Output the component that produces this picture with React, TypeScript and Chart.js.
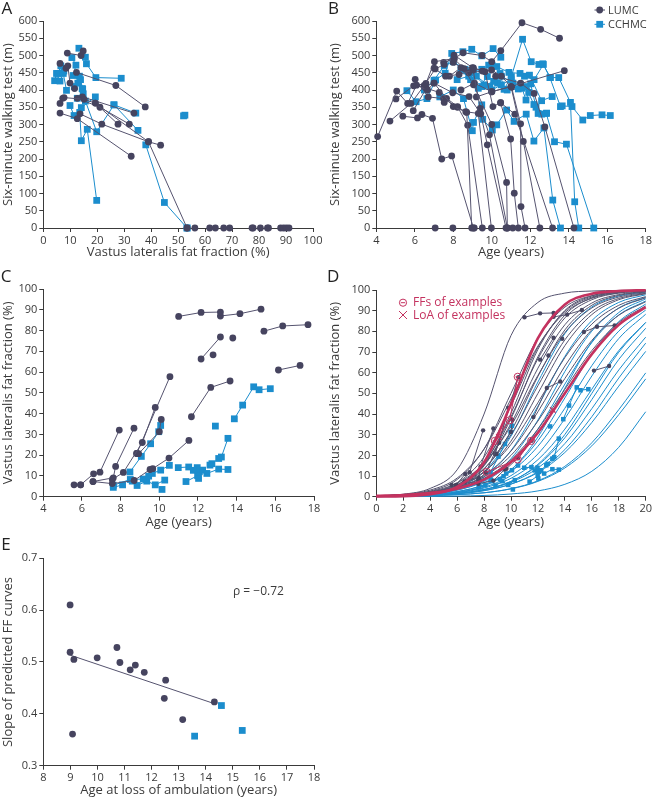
import React, { useEffect, useRef } from "react";
import { Chart, registerables } from "chart.js";
Chart.register(...registerables);

const FONT = "'Open Sans', 'Noto Sans', sans-serif";
const DARK = "#46445f";
const DARK_LINE = "#55536f";
const BLUE = "#1b8dcd";
const RED = "#c4325f";
const INK = "#3a3a3a";

// ---------- Panel A: 6MWT vs fat fraction ----------
const A_LUMC: number[][][] = [
  [[8.9, 507], [14.0, 500], [14.8, 513]],
  [[6.2, 477], [8.4, 463], [9.1, 470], [9.9, 420], [11.6, 404]],
  [[12.3, 451], [26.9, 413], [37.8, 351]],
  [[6.2, 361], [7.2, 376], [7.7, 378], [15.1, 373], [19.3, 362], [27.7, 301]],
  [[12.6, 376], [21.0, 350], [31.9, 301]],
  [[14.5, 380], [33.6, 333]],
  [[6.2, 333], [12.6, 317], [32.6, 208]],
  [[13.6, 331], [21.7, 301], [39.0, 250], [43.5, 240]],
  [[19.3, 362], [39.0, 250], [53.3, 0]],
];
const A_LUMC_ZERO: number[] = [53.3, 56.2, 61.7, 63.8, 66.9, 69.1, 77.4, 77.8, 80.5, 83.1, 83.5, 88.0, 89.1, 90.1, 91.1];
const A_CCHMC: number[][][] = [
  [[13.2, 521], [15.6, 495], [16.0, 476], [19.5, 436], [28.9, 434]],
  [[10.6, 494], [12.1, 472], [11.1, 442], [13.8, 430], [14.6, 403], [14.8, 389]],
  [[4.2, 427], [4.9, 448], [6.2, 426], [7.4, 448], [8.6, 399]],
  [[9.9, 355], [11.4, 326], [14.1, 349], [19.3, 380]],
  [[12.6, 376], [15.6, 368], [19.8, 279], [26.2, 357], [35.1, 283]],
  [[26.2, 357], [34.3, 333]],
  [[13.5, 335], [14.1, 253], [16.3, 286], [19.8, 80]],
  [[38.0, 241], [44.9, 74], [53.3, 0]],
  [[52.0, 325], [52.5, 327]],
  [[5.5, 448], [6.5, 470], [7.6, 455]],
  [[11.5, 410], [12.8, 420], [13.4, 440], [14.4, 404]],
];
const A_CCHMC_ZERO: number[] = [53.3];

// ---------- Panel B: 6MWT vs age ----------
const B_LUMC: number[][][] = [
  [[4.07, 265], [5.06, 397], [5.63, 361], [6.09, 414], [6.66, 400], [7.0, 420], [8.0, 352], [8.7, 335], [8.96, 0]],
  [[4.71, 310], [5.8, 361], [6.49, 413], [7.06, 461], [7.53, 474], [8.04, 501], [9.0, 465], [9.51, 455]],
  [[5.38, 324], [6.14, 319], [6.37, 329], [6.92, 318], [7.4, 200], [7.92, 209], [9.05, 0]],
  [[5.02, 374], [5.94, 412], [6.58, 419], [7.02, 482], [8.04, 491], [8.51, 508], [9.5, 500], [10.0, 482], [10.47, 514], [11.57, 595], [12.54, 576], [13.52, 550]],
  [[5.92, 340], [6.6, 405], [7.27, 393], [7.53, 364], [7.65, 376], [8.22, 352], [8.75, 298], [9.51, 0]],
  [[6.02, 431], [6.7, 380], [7.5, 375], [8.22, 350], [8.65, 337], [9.3, 332], [9.98, 0]],
  [[6.5, 410], [7.0, 420], [7.97, 392], [8.82, 381], [9.43, 331], [9.77, 241], [10.74, 0]],
  [[7.0, 463], [7.6, 440], [8.3, 445], [9.03, 458], [9.4, 347], [9.88, 270], [10.81, 0]],
  [[7.5, 480], [8.05, 490], [8.56, 462], [9.05, 415], [10.0, 300], [10.77, 132], [10.81, 0]],
  [[7.8, 440], [8.4, 465], [9.05, 464], [9.65, 453], [10.06, 352], [10.46, 363], [10.98, 258], [11.17, 101], [11.38, 0]],
  [[8.0, 480], [8.8, 450], [9.99, 458], [10.5, 440], [11.03, 408], [11.5, 302], [11.52, 62], [11.73, 0]],
  [[8.4, 400], [9.1, 420], [10.0, 395], [11.0, 410], [11.64, 251], [12.5, 0]],
  [[9.2, 380], [10.0, 395], [11.0, 410], [13.77, 456]],
  [[10.2, 440], [11.5, 420], [12.2, 390], [12.76, 293], [14.27, 0]],
  [[10.46, 363], [11.2, 330], [13.16, 0]],
  [[7.06, 0]],
  [[7.98, 0]],
  [[9.09, 0]],
  [[11.09, 0]],
];
const B_CCHMC: number[][][] = [
  [[5.59, 398], [6.07, 366], [6.63, 375], [7.08, 429], [7.58, 449], [7.92, 506], [8.5, 511], [8.96, 518], [9.48, 499], [10.07, 520], [10.47, 495]],
  [[6.5, 400], [7.0, 428], [7.53, 471], [8.0, 482], [8.61, 460], [9.05, 455], [9.48, 460], [9.84, 472], [10.02, 471], [10.26, 468], [10.89, 451], [11.47, 448], [11.96, 443], [12.59, 369], [13.14, 381]],
  [[7.3, 380], [8.0, 400], [8.53, 375], [8.99, 282], [9.05, 306], [9.48, 357], [9.53, 315], [10.03, 284], [10.26, 299], [10.77, 342], [11.16, 309], [11.79, 330], [12.19, 252], [12.71, 290], [13.17, 81], [13.57, 0]],
  [[8.2, 430], [8.8, 440], [9.5, 410], [10.1, 425], [10.43, 448], [10.64, 402], [11.02, 439], [11.6, 547], [12.05, 482], [12.45, 474], [12.65, 476], [13.05, 436], [13.48, 436], [14.09, 364], [14.31, 76], [14.52, 0]],
  [[8.4, 460], [8.9, 430], [9.3, 405], [9.77, 439], [10.3, 420], [10.8, 400], [11.38, 403], [11.76, 410], [12.19, 358], [12.41, 332], [12.83, 332], [13.26, 250], [13.88, 243], [15.3, 0]],
  [[9.0, 450], [9.6, 415], [10.0, 400], [10.5, 415], [11.0, 430], [11.57, 405], [11.78, 371], [11.92, 393], [12.02, 418], [12.3, 350], [12.6, 330], [12.85, 333]],
  [[11.7, 440], [12.2, 430], [12.68, 474], [13.02, 436], [13.57, 352], [13.66, 354], [14.17, 352], [14.73, 313], [15.12, 326], [15.73, 328], [16.16, 326]],
  [[8.7, 455], [9.2, 440], [9.9, 410], [10.5, 440], [11.1, 420], [11.5, 415]],
];

// ---------- Panel C: fat fraction vs age ----------
const C_LUMC: number[][][] = [
  [[5.59, 5.7], [5.93, 5.7]],
  [[5.93, 5.7], [6.6, 11.0], [6.93, 11.8], [7.93, 32.1]],
  [[6.57, 7.3], [7.62, 9.1], [7.74, 14.6], [8.69, 33.0]],
  [[7.57, 8.3], [8.14, 11.7], [9.12, 26.1], [9.79, 43.0]],
  [[8.83, 20.8], [8.93, 20.7], [10.0, 31.3], [10.1, 37.2]],
  [[8.83, 20.8], [10.55, 57.8]],
  [[6.57, 7.3], [7.57, 6.3], [8.7, 7.8], [9.52, 13.1], [9.66, 13.5], [10.5, 18.6], [11.53, 27.1]],
  [[11.66, 38.5], [12.66, 52.6], [13.66, 55.7]],
  [[11.0, 86.8], [12.16, 88.7], [13.16, 88.9]],
  [[13.16, 87.0], [14.17, 88.1], [15.26, 90.3]],
  [[12.16, 66.3], [13.16, 76.9]],
  [[12.78, 68.3]],
  [[13.8, 76.4]],
  [[15.41, 79.7], [16.38, 82.2], [17.69, 82.8]],
  [[16.16, 61.0], [17.28, 63.2]],
];
const C_CCHMC: number[][][] = [
  [[8.48, 11.9], [9.07, 19.4], [9.55, 25.5], [9.97, 31.3], [10.07, 34.3]],
  [[7.62, 4.5], [8.1, 5.7]],
  [[7.62, 5.5], [8.5, 8.3], [9.17, 8.5], [9.45, 9.9], [9.64, 11.2], [10.07, 12.8], [10.52, 15.1]],
  [[8.6, 7.5], [8.85, 5.4], [9.35, 7.5], [9.79, 5.7], [10.28, 8.0]],
  [[10.14, 3.5]],
  [[10.98, 14.0], [11.52, 14.3], [11.76, 12.7], [12.03, 8.8]],
  [[11.38, 7.3], [11.98, 10.1], [12.24, 12.8]],
  [[11.96, 14.0], [12.07, 12.0], [12.46, 11.2], [13.07, 13.3], [13.55, 13.1]],
  [[12.62, 15.2], [12.72, 15.9], [13.07, 18.4], [13.21, 19.1], [13.55, 28.1]],
  [[12.9, 34.0]],
  [[13.88, 37.5], [14.31, 44.1], [14.88, 52.9], [15.16, 51.5], [15.74, 52.0]],
];

// ---------- Panel D: predicted FF curves (values read at each age) ----------
const D_AGES: number[] = [0, 2, 4, 6, 8, 10, 12, 14, 16, 18, 20];
const D_LUMC_CURVES: number[][] = [
  [0.3, 1.2, 4, 13, 40, 78, 94, 98.5, 99.5, 99.8, 100],
  [0.25, 0.8, 2.7, 8.3, 23.1, 50, 76.9, 91.7, 97.3, 99.2, 99.7],
  [0.2, 0.6, 2.1, 6.7, 19.2, 44, 72.3, 89.7, 96.6, 99, 99.7],
  [0.2, 0.6, 1.9, 5.8, 16.5, 38.7, 66.8, 86.5, 95.3, 98.5, 99.5],
  [0.2, 0.7, 2.0, 5.7, 15.4, 35.4, 62.2, 83.2, 93.7, 97.8, 99.3],
  [0.2, 0.6, 1.7, 4.9, 13.4, 31.7, 58.2, 80.7, 92.6, 97.4, 99.1],
  [0.3, 0.8, 2.1, 5.5, 13.6, 30.0, 53.7, 75.9, 89.6, 95.9, 98.4],
  [0.25, 0.7, 1.8, 4.7, 11.9, 26.9, 50, 73.1, 88.1, 95.3, 98.2],
  [0.4, 0.9, 2.2, 5.3, 12.1, 25.3, 45.5, 67.3, 83.5, 92.6, 96.8],
  [0.3, 0.8, 1.9, 4.5, 10.3, 22.1, 41.1, 63.2, 80.8, 91.2, 96.2],
  [0.4, 0.9, 2.0, 4.4, 9.7, 20, 36.6, 57.2, 75.6, 87.8, 94.3],
  [0.4, 0.9, 1.9, 4.2, 8.9, 17.9, 32.7, 52, 70.7, 84.3, 92.3],
  [0.1, 0.4, 1.4, 4.8, 15.6, 40.4, 71.3, 90.1, 97.1, 99.2, 99.8],
  [0.4, 1.1, 3.2, 9.0, 23.0, 47.3, 72.9, 89.0, 96.0, 98.6, 99.5],
  [0.1, 0.4, 1.4, 4.8, 14.9, 37.8, 67.7, 87.9, 96.2, 98.9, 99.7],
  [0.35, 0.95, 2.5, 6.6, 16.1, 34.3, 58.7, 79.4, 91.3, 96.6, 98.7],
];
const D_CCHMC_CURVES: number[][] = [
  [0.2, 0.5, 1.5, 4.4, 12.1, 29.3, 55.5, 78.9, 91.8, 97.1, 99.0],
  [0.2, 0.5, 1.4, 3.7, 9.5, 22.3, 43.8, 67.9, 85.2, 94.0, 97.7],
  [0.2, 0.5, 1.2, 3.2, 7.9, 18.4, 37.1, 60.6, 80.1, 91.3, 96.5],
  [0.2, 0.5, 1.3, 3.2, 7.4, 16.5, 32.7, 54.5, 74.6, 87.9, 94.7],
  [0.2, 0.4, 1.0, 2.4, 5.8, 13.1, 27.1, 47.8, 69.2, 84.7, 93.2],
  [0.2, 0.5, 1.1, 2.5, 5.7, 12.2, 24.4, 42.8, 63.4, 80.1, 90.3],
  [0.2, 0.4, 0.9, 2.1, 4.6, 10.2, 20.7, 37.8, 58.4, 76.5, 88.3],
  [0.2, 0.4, 0.9, 1.9, 4.2, 8.9, 17.9, 32.7, 52, 70.7, 84.3],
  [0.15, 0.3, 0.7, 1.6, 3.5, 7.4, 15.2, 28.5, 47, 66.4, 81.5],
  [0.2, 0.4, 0.8, 1.6, 3.4, 7.0, 13.9, 25.7, 42.6, 61.3, 77.2],
  [0.15, 0.3, 0.7, 1.4, 2.9, 6.1, 12.1, 22.8, 38.7, 57.4, 74.3],
  [0.2, 0.4, 0.7, 1.5, 3.0, 6.1, 11.7, 21.4, 35.9, 53.5, 70.3],
  [0.1, 0.2, 0.5, 1.0, 1.9, 3.9, 7.7, 14.7, 26.1, 42.1, 59.9],
  [0.1, 0.2, 0.5, 1.0, 1.9, 3.8, 7.4, 13.9, 24.6, 39.7, 57.0],
  [0, 0.05, 0.1, 0.3, 0.6, 1.3, 2.8, 6.0, 12.3, 23.9, 41.1],
  [0.1, 0.3, 0.7, 2.0, 5.2, 13.0, 28.9, 52.5, 75.0, 89.1, 95.7],
  [0.1, 0.3, 0.6, 1.5, 3.4, 7.4, 15.7, 30.1, 50, 69.9, 84.3],
];
const D_EXAMPLE_CURVES: number[][] = [
  [0.1, 0.3, 1.2, 4.7, 16.7, 44.8, 76.7, 93.0, 98.2, 99.5, 99.9],
  [0.4, 0.8, 1.8, 3.9, 8.3, 16.8, 31.0, 50, 69.0, 83.2, 91.7],
];
const D_EXAMPLE_FF: number[][][] = [
  [[8.8, 27], [9.9, 37], [10.5, 58]],
  [[8.2, 12], [10.5, 18], [11.5, 27]],
];
const D_EXAMPLE_LOA: number[][] = [[9.1, 29], [13.1, 42]];

// ---------- Panel E: slope vs age at loss of ambulation ----------
const E_LUMC_AGE: number[] = [8.99, 8.99, 9.13, 9.08, 9.99, 10.72, 10.83, 11.21, 11.4, 11.73, 12.52, 12.47, 13.15, 14.32];
const E_LUMC_SLOPE: number[] = [0.61, 0.519, 0.505, 0.361, 0.508, 0.528, 0.499, 0.485, 0.494, 0.48, 0.465, 0.43, 0.389, 0.423];
const E_CCHMC_AGE: number[] = [14.58, 13.59, 15.35];
const E_CCHMC_SLOPE: number[] = [0.416, 0.357, 0.368];
const E_FIT: number[][] = [[8.95, 0.514], [14.3, 0.42]];
const E_RHO = "ρ = −0.72";

type Area = { l: number; r: number; t: number; b: number };

function track(points: number[][], color: string, lineColor: string, style: string, r: number, order = 2): any {
  return {
    data: points.map(([x, y]) => ({ x, y })),
    showLine: true,
    borderColor: lineColor,
    borderWidth: 1,
    backgroundColor: color,
    pointStyle: style,
    pointRadius: r,
    pointHoverRadius: r,
    pointBackgroundColor: color,
    pointBorderColor: color,
    pointBorderWidth: 0,
    tension: 0,
    clip: false,
    order,
  };
}

function curve(vals: number[], color: string, width: number, order: number): any {
  return {
    data: D_AGES.map((a, i) => ({ x: a, y: vals[i] })),
    showLine: true,
    borderColor: color,
    borderWidth: width,
    pointRadius: 0,
    pointHoverRadius: 0,
    cubicInterpolationMode: "monotone",
    fill: false,
    clip: false,
    order,
  };
}

function axis(isX: boolean, min: number, max: number, step: number, title: string, size: number, titlePad: number, fmt?: (v: number) => string): any {
  return {
    type: "linear",
    position: isX ? "bottom" : "left",
    min,
    max,
    afterFit: (s: any) => {
      if (isX) s.height = size;
      else s.width = size;
    },
    ticks: {
      stepSize: step,
      autoSkip: false,
      maxRotation: 0,
      minRotation: 0,
      padding: 2,
      color: INK,
      font: { family: FONT, size: 11 },
      callback: (v: any) => (fmt ? fmt(Number(v)) : String(Math.round(Number(v) * 100) / 100)),
    },
    grid: { display: true, drawOnChartArea: false, drawTicks: true, tickLength: 4, color: INK, lineWidth: 1 },
    border: { display: true, color: INK, width: 1 },
    title: {
      display: true,
      text: title,
      color: INK,
      font: { family: FONT, size: 13 },
      padding: isX ? { top: 0, bottom: titlePad } : { top: 0, bottom: 0 },
    },
  };
}

function options(w: number, h: number, area: Area, x: any, y: any): any {
  return {
    responsive: false,
    maintainAspectRatio: false,
    animation: false,
    devicePixelRatio: 1,
    events: [],
    layout: { padding: { left: 0, top: area.t, right: w - area.r, bottom: 0 } },
    plugins: { legend: { display: false }, tooltip: { enabled: false } },
    scales: { x, y },
  };
}

const W = 327;
const H = 270;

function buildA(): any {
  const area: Area = { l: 43.3, r: 313, t: 21, b: 228 };
  const datasets: any[] = [];
  A_LUMC.forEach((s) => datasets.push(track(s, DARK, DARK_LINE, "circle", 3.4)));
  datasets.push({ ...track(A_LUMC_ZERO.map((v) => [v, 0]), DARK, DARK_LINE, "circle", 3.4), showLine: false });
  A_CCHMC.forEach((s) => datasets.push(track(s, BLUE, BLUE, "rect", 4.8, 3)));
  datasets.push({ ...track(A_CCHMC_ZERO.map((v) => [v, 0]), BLUE, BLUE, "rect", 4.8, 3), showLine: false });
  return {
    type: "scatter",
    data: { datasets },
    options: options(W, H, area, axis(true, 0, 100, 10, "Vastus lateralis fat fraction (%)", H - area.b, 10.2), axis(false, 0, 600, 50, "Six-minute walking test (m)", area.l, 0)),
  };
}

const legendB = {
  id: "legendB",
  afterDraw(chart: any) {
    const ctx = chart.ctx;
    ctx.save();
    ctx.font = `11px ${FONT}`;
    ctx.textBaseline = "middle";
    ctx.textAlign = "left";
    const rows = [
      { label: "LUMC", color: DARK, round: true, y: 10 },
      { label: "CCHMC", color: BLUE, round: false, y: 24.3 },
    ];
    rows.forEach((r) => {
      ctx.strokeStyle = r.color;
      ctx.lineWidth = 1;
      ctx.beginPath();
      ctx.moveTo(267.5, r.y);
      ctx.lineTo(278, r.y);
      ctx.stroke();
      ctx.fillStyle = r.color;
      if (r.round) {
        ctx.beginPath();
        ctx.arc(272.7, r.y, 3.4, 0, Math.PI * 2);
        ctx.fill();
      } else {
        ctx.fillRect(272.7 - 3.4, r.y - 3.4, 6.8, 6.8);
      }
      ctx.fillStyle = INK;
      ctx.fillText(r.label, 281, r.y + 0.5);
    });
    ctx.restore();
  },
};

function buildB(): any {
  const area: Area = { l: 49.3, r: 319.3, t: 21, b: 228 };
  const datasets: any[] = [];
  B_LUMC.forEach((s) => datasets.push(track(s, DARK, DARK_LINE, "circle", 3.4)));
  B_CCHMC.forEach((s) => datasets.push(track(s, BLUE, BLUE, "rect", 4.8, 3)));
  return {
    type: "scatter",
    data: { datasets },
    options: options(W, H, area, axis(true, 4, 18, 2, "Age (years)", H - area.b, 10.2), axis(false, 0, 600, 50, "Six-minute walking test (m)", area.l, 0)),
    plugins: [legendB],
  };
}

function buildC(): any {
  const area: Area = { l: 43.3, r: 314, t: 19, b: 226.7 };
  const datasets: any[] = [];
  C_LUMC.forEach((s) => datasets.push(track(s, DARK, DARK_LINE, "circle", 3.4)));
  C_CCHMC.forEach((s) => datasets.push(track(s, BLUE, BLUE, "rect", 4.8, 3)));
  return {
    type: "scatter",
    data: { datasets },
    options: options(W, H, area, axis(true, 4, 18, 2, "Age (years)", H - area.b, 10.2), axis(false, 0, 100, 10, "Vastus lateralis fat fraction (%)", area.l, 0)),
  };
}

const legendD = {
  id: "legendD",
  afterDraw(chart: any) {
    const ctx = chart.ctx;
    ctx.save();
    ctx.font = `12px ${FONT}`;
    ctx.textBaseline = "middle";
    ctx.textAlign = "left";
    ctx.strokeStyle = RED;
    ctx.fillStyle = RED;
    ctx.lineWidth = 1;
    ctx.beginPath();
    ctx.arc(76, 32.7, 3.6, 0, Math.PI * 2);
    ctx.stroke();
    ctx.beginPath();
    ctx.moveTo(73.8, 32.7);
    ctx.lineTo(78.2, 32.7);
    ctx.stroke();
    ctx.fillText("FFs of examples", 86, 33);
    ctx.beginPath();
    ctx.moveTo(72, 41);
    ctx.lineTo(80, 49);
    ctx.moveTo(80, 41);
    ctx.lineTo(72, 49);
    ctx.stroke();
    ctx.fillText("LoA of examples", 86, 45.3);
    ctx.restore();
  },
};

function buildD(): any {
  const area: Area = { l: 49.3, r: 319.3, t: 20, b: 226.7 };
  const datasets: any[] = [];
  D_EXAMPLE_LOA.forEach((p) =>
    datasets.push({
      data: [{ x: p[0], y: p[1] }],
      showLine: false,
      pointStyle: "crossRot",
      pointRadius: 4,
      pointBorderColor: RED,
      pointBorderWidth: 1.2,
      borderColor: RED,
      clip: false,
      order: 0,
    })
  );
  D_EXAMPLE_FF.forEach((s) => {
    datasets.push({
      data: s.map(([x, y]) => ({ x, y })),
      showLine: true,
      borderColor: RED,
      borderWidth: 1,
      pointStyle: "circle",
      pointRadius: 3.6,
      pointBackgroundColor: "rgba(255,255,255,0)",
      pointBorderColor: RED,
      pointBorderWidth: 1,
      clip: false,
      order: 0,
    });
    datasets.push({
      data: s.map(([x, y]) => ({ x, y })),
      showLine: false,
      pointStyle: "line",
      pointRadius: 2.2,
      pointBorderColor: RED,
      pointBorderWidth: 1,
      clip: false,
      order: 0,
    });
  });
  D_EXAMPLE_CURVES.forEach((v) => datasets.push(curve(v, RED, 2.6, 1)));
  C_LUMC.forEach((s) => datasets.push(track(s, DARK, DARK_LINE, "circle", 2.2, 2)));
  C_CCHMC.forEach((s) => datasets.push(track(s, BLUE, BLUE, "rect", 3.2, 2)));
  D_LUMC_CURVES.forEach((v) => datasets.push(curve(v, DARK_LINE, 1, 4)));
  D_CCHMC_CURVES.forEach((v) => datasets.push(curve(v, BLUE, 1, 4)));
  return {
    type: "scatter",
    data: { datasets },
    options: options(W, H, area, axis(true, 0, 20, 2, "Age (years)", H - area.b, 10.2), axis(false, 0, 100, 10, "Vastus lateralis fat fraction (%)", area.l, 0)),
    plugins: [legendD],
  };
}

const rhoE = {
  id: "rhoE",
  afterDraw(chart: any) {
    const ctx = chart.ctx;
    ctx.save();
    ctx.font = `12px ${FONT}`;
    ctx.fillStyle = INK;
    ctx.textBaseline = "middle";
    ctx.textAlign = "left";
    ctx.fillText(E_RHO, 233, 52);
    ctx.restore();
  },
};

function buildE(): any {
  const h = 260;
  const area: Area = { l: 43.3, r: 314, t: 18.3, b: 225.7 };
  const datasets: any[] = [
    { ...track(E_LUMC_AGE.map((a, i) => [a, E_LUMC_SLOPE[i]]), DARK, DARK_LINE, "circle", 3.4, 1), showLine: false },
    { ...track(E_CCHMC_AGE.map((a, i) => [a, E_CCHMC_SLOPE[i]]), BLUE, BLUE, "rect", 4.8, 1), showLine: false },
    { ...track(E_FIT, DARK_LINE, DARK_LINE, "circle", 0, 2) },
  ];
  return {
    type: "scatter",
    data: { datasets },
    options: options(W, h, area, axis(true, 8, 18, 1, "Age at loss of ambulation (years)", h - area.b, 2.2), axis(false, 0.3, 0.7, 0.1, "Slope of predicted FF curves", area.l, 0, (v) => v.toFixed(1))),
    plugins: [rhoE],
  };
}

function ChartPanel({ left, top, w, h, build }: { left: number; top: number; w: number; h: number; build: () => any }) {
  const ref = useRef<HTMLCanvasElement | null>(null);
  useEffect(() => {
    if (!ref.current) return;
    const chart = new Chart(ref.current, build());
    return () => chart.destroy();
  }, []);
  return (
    <div style={{ position: "absolute", left, top, width: w, height: h }}>
      <canvas ref={ref} width={w} height={h} style={{ display: "block", width: w, height: h }} />
    </div>
  );
}

function Letter({ text, left, top }: { text: string; left: number; top: number }) {
  return (
    <div style={{ position: "absolute", left, top, fontFamily: FONT, fontSize: 17, lineHeight: "17px", color: "#222", zIndex: 2 }}>
      {text}
    </div>
  );
}

export default function App() {
  return (
    <div style={{ position: "absolute", left: 0, top: 0, width: 654, height: 800, background: "#fff", overflow: "hidden" }}>
      <ChartPanel left={0} top={0} w={W} h={H} build={buildA} />
      <ChartPanel left={327} top={0} w={W} h={H} build={buildB} />
      <ChartPanel left={0} top={270} w={W} h={H} build={buildC} />
      <ChartPanel left={327} top={270} w={W} h={H} build={buildD} />
      <ChartPanel left={0} top={540} w={W} h={260} build={buildE} />
      <Letter text="A" left={1.5} top={-1} />
      <Letter text="B" left={328} top={-1} />
      <Letter text="C" left={0.7} top={266.5} />
      <Letter text="D" left={327} top={266.5} />
      <Letter text="E" left={1.2} top={535} />
    </div>
  );
}
